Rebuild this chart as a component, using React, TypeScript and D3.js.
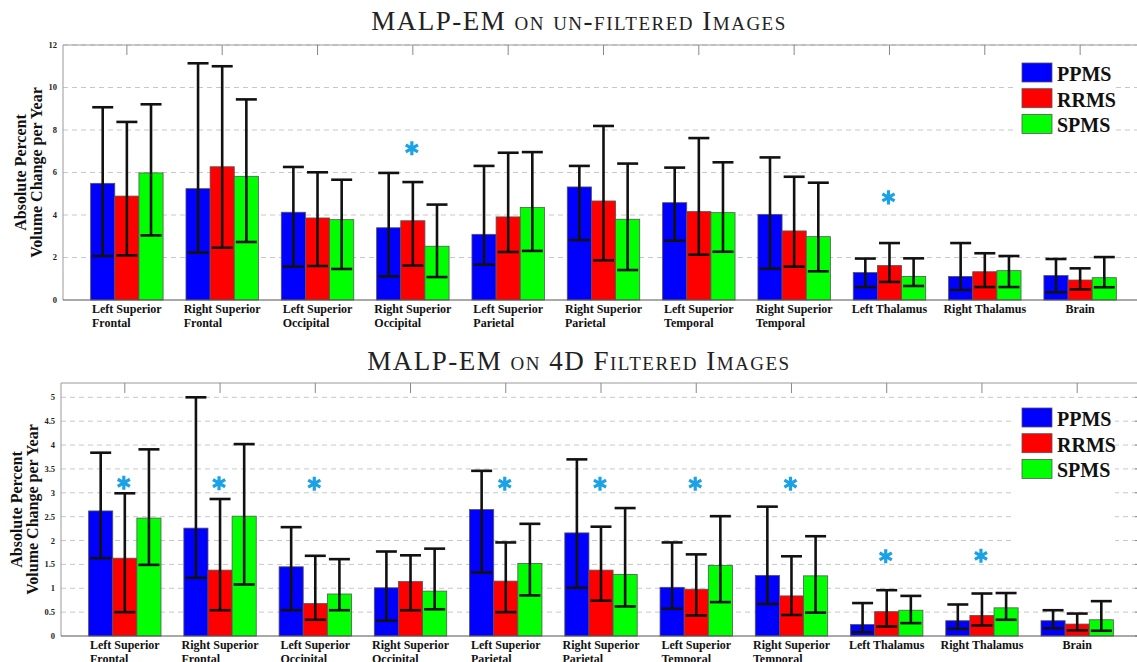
import React from 'react';
import * as d3 from 'd3';

const W = 1137;
const H = 662;

const regions = [
  'Left Superior Frontal',
  'Right Superior Frontal',
  'Left Superior Occipital',
  'Right Superior Occipital',
  'Left Superior Parietal',
  'Right Superior Parietal',
  'Left Superior Temporal',
  'Right Superior Temporal',
  'Left Thalamus',
  'Right Thalamus',
  'Brain',
];
const groups = ['PPMS', 'RRMS', 'SPMS'];
const groupColors = ['#0000ff', '#ff0000', '#00ff00'];

// MALP-EM on un-filtered images
const rawPPMS = [5.49, 5.24, 4.13, 3.4, 3.09, 5.32, 4.58, 4.03, 1.29, 1.11, 1.15];
const rawPPMSHi = [9.07, 11.14, 6.26, 5.98, 6.31, 6.31, 6.23, 6.71, 1.95, 2.68, 1.93];
const rawPPMSLo = [2.07, 2.23, 1.57, 1.11, 1.66, 2.82, 2.79, 1.47, 0.61, 0.47, 0.36];
const rawRRMS = [4.89, 6.27, 3.86, 3.73, 3.91, 4.66, 4.16, 3.25, 1.62, 1.33, 0.94];
const rawRRMSHi = [8.38, 11.0, 6.01, 5.55, 6.93, 8.19, 7.62, 5.8, 2.68, 2.2, 1.49];
const rawRRMSLo = [2.1, 2.46, 1.6, 1.62, 2.26, 1.87, 2.13, 1.57, 0.85, 0.61, 0.5];
const rawSPMS = [5.98, 5.82, 3.78, 2.53, 4.36, 3.8, 4.11, 2.98, 1.11, 1.38, 1.05];
const rawSPMSHi = [9.21, 9.44, 5.66, 4.49, 6.96, 6.42, 6.48, 5.52, 1.96, 2.07, 2.02];
const rawSPMSLo = [3.04, 2.73, 1.46, 1.08, 2.31, 1.41, 2.27, 1.35, 0.66, 0.61, 0.6];
const rawStarIdx = [3, 8];
const rawStarAt = [7.14, 4.83];

// MALP-EM on 4D filtered images
const filtPPMS = [2.62, 2.26, 1.45, 1.01, 2.65, 2.16, 1.02, 1.27, 0.24, 0.32, 0.32];
const filtPPMSHi = [3.84, 5.0, 2.28, 1.77, 3.46, 3.7, 1.96, 2.71, 0.69, 0.66, 0.54];
const filtPPMSLo = [1.63, 1.22, 0.54, 0.32, 1.33, 1.01, 0.57, 0.67, 0.08, 0.15, 0.16];
const filtRRMS = [1.63, 1.38, 0.68, 1.14, 1.15, 1.38, 0.98, 0.84, 0.51, 0.43, 0.25];
const filtRRMSHi = [2.99, 2.87, 1.68, 1.69, 1.96, 2.29, 1.71, 1.67, 0.96, 0.89, 0.47];
const filtRRMSLo = [0.5, 0.54, 0.34, 0.54, 0.5, 0.74, 0.43, 0.44, 0.2, 0.22, 0.12];
const filtSPMS = [2.47, 2.51, 0.88, 0.94, 1.52, 1.29, 1.48, 1.26, 0.54, 0.59, 0.34];
const filtSPMSHi = [3.91, 4.02, 1.61, 1.83, 2.35, 2.68, 2.51, 2.09, 0.84, 0.9, 0.73];
const filtSPMSLo = [1.49, 1.08, 0.54, 0.56, 0.85, 0.62, 0.71, 0.49, 0.27, 0.34, 0.11];
const filtStarIdx = [0, 1, 2, 4, 5, 6, 7, 8, 9];
const filtStarAt = [3.21, 3.2, 3.19, 3.19, 3.19, 3.19, 3.19, 1.67, 1.68];

const SERIF = '"Liberation Serif", "Times New Roman", serif';
const LABEL_FONT = `bold 12px ${SERIF}`;

const ctx = typeof document !== 'undefined' ? document.createElement('canvas').getContext('2d') : null;
function textWidth(s: string, font: string) {
  if (!ctx) return s.length * 6;
  ctx.font = font;
  return ctx.measureText(s).width;
}

function splitLabel(name: string) {
  const m = name.match(/^(Left Superior|Right Superior) (.*)$/);
  return m ? [m[1], m[2]] : [name];
}

const panels = [
  {
    title: 'MALP-EM on un-filtered Images',
    titleY: 30,
    top: 45, bottom: 300, left: 63, right: 1144,
    yMax: 12, tickStep: 2,
    means: [rawPPMS, rawRRMS, rawSPMS],
    his: [rawPPMSHi, rawRRMSHi, rawSPMSHi],
    los: [rawPPMSLo, rawRRMSLo, rawSPMSLo],
    starIdx: rawStarIdx, starAt: rawStarAt,
    legendY: 63, legendBg: [55, 145],
    axisX: [20, 36],
  },
  {
    title: 'MALP-EM on 4D Filtered Images',
    titleY: 370,
    top: 383, bottom: 636, left: 61, right: 1141,
    yMax: 5.3, tickStep: 0.5,
    means: [filtPPMS, filtRRMS, filtSPMS],
    his: [filtPPMSHi, filtRRMSHi, filtSPMSHi],
    los: [filtPPMSLo, filtRRMSLo, filtSPMSLo],
    starIdx: filtStarIdx, starAt: filtStarAt,
    legendY: 408, legendBg: [398, 550],
    axisX: [16, 32],
  },
];

const star = d3.symbol(d3.symbolAsterisk, 139)();

function Panel({ cfg }: { cfg: any }) {
  const x = d3.scaleLinear().domain([0.33, 11.67]).range([cfg.left, cfg.right]);
  const step = x(2) - x(1);
  const inner = d3.scaleBand().domain(groups).range([-step * 0.38, step * 0.38]);
  const bw = inner.bandwidth();
  const y = d3.scaleLinear().domain([0, cfg.yMax]).range([cfg.bottom, cfg.top]);
  const ticks = d3.range(0, cfg.yMax + 1e-9, cfg.tickStep);
  const midY = (cfg.top + cfg.bottom) / 2;

  return (
    <g>
      <text x={579} y={cfg.titleY} textAnchor="middle" fontFamily={SERIF} fontSize={27}
        letterSpacing={1.5} style={{ fontVariant: 'small-caps' }} fill="#222">{cfg.title}</text>

      {/* grid */}
      {ticks.filter((t) => t > 0).map((t) => (
        <line key={t} x1={cfg.left} x2={cfg.right} y1={y(t)} y2={y(t)}
          stroke="#c8c8c8" strokeWidth={1} strokeDasharray="5,4" />
      ))}

      {/* legend background */}
      <rect x={1015} y={cfg.legendBg[0]} width={100} height={cfg.legendBg[1] - cfg.legendBg[0]} fill="#fff" />

      {/* box */}
      <line x1={cfg.left} x2={cfg.right} y1={cfg.top} y2={cfg.top} stroke="#999" />
      <line x1={cfg.left} x2={cfg.left} y1={cfg.top} y2={cfg.bottom} stroke="#999" />
      <line x1={cfg.right} x2={cfg.right} y1={cfg.top} y2={cfg.bottom} stroke="#999" />
      {regions.map((r, i) => (
        <line key={r} x1={x(i + 1)} x2={x(i + 1)} y1={cfg.top} y2={cfg.top + 10} stroke="#888" />
      ))}
      {ticks.map((t) => (
        <line key={t} x1={cfg.right - 6} x2={cfg.right} y1={y(t)} y2={y(t)} stroke="#888" />
      ))}

      {/* y tick labels */}
      {ticks.map((t) => (
        <text key={t} x={cfg.left - 6} y={y(t)} dy="0.35em" textAnchor="end"
          fontFamily={SERIF} fontWeight="bold" fontSize={8.5} fill="#222">{d3.format('~g')(t)}</text>
      ))}

      {/* y axis title */}
      {['Absolute Percent', 'Volume Change per Year'].map((s, k) => (
        <text key={s} transform={`translate(${cfg.axisX[k]},${midY}) rotate(-90)`} dy="0.35em"
          textAnchor="middle" fontFamily={SERIF} fontWeight="bold" fontSize={16} fill="#111">{s}</text>
      ))}

      {/* bars */}
      {groups.map((g, gi) => (
        <g key={g}>
          {cfg.means[gi].map((v: number, i: number) => (
            <rect key={i} x={x(i + 1) + (inner(g) as number)} y={y(v)} width={bw} height={y(0) - y(v)}
              fill={groupColors[gi]} stroke="#555" strokeWidth={0.8} />
          ))}
        </g>
      ))}

      {/* error bars */}
      {groups.map((g, gi) => (
        <g key={g} stroke="#111" strokeWidth={2.6}>
          {cfg.means[gi].map((v: number, i: number) => {
            const cx = x(i + 1) + (inner(g) as number) + bw / 2;
            const hi = y(cfg.his[gi][i]);
            const lo = y(cfg.los[gi][i]);
            return (
              <g key={i}>
                <line x1={cx} x2={cx} y1={hi} y2={lo} />
                <line x1={cx - 10.5} x2={cx + 10.5} y1={hi} y2={hi} />
                <line x1={cx - 10.5} x2={cx + 10.5} y1={lo} y2={lo} />
              </g>
            );
          })}
        </g>
      ))}

      {/* base line */}
      <line x1={cfg.left} x2={cfg.right} y1={y(0)} y2={y(0)} stroke="#555" strokeWidth={1.2} />

      {/* significance */}
      {cfg.starIdx.map((idx: number, k: number) => (
        <path key={idx} d={star as string} transform={`translate(${x(idx + 1) - 1},${y(cfg.starAt[k])})`}
          fill="none" stroke="#1ba1e6" strokeWidth={3.2} />
      ))}

      {/* category labels */}
      {regions.map((r, i) => {
        const lines = splitLabel(r);
        const cx = x(i + 1);
        if (lines.length === 1) {
          return (
            <text key={r} x={cx} y={cfg.bottom + 13} textAnchor="middle" fontFamily={SERIF}
              fontWeight="bold" fontSize={12} fill="#111">{r}</text>
          );
        }
        const x0 = cx - textWidth(lines[0], LABEL_FONT) / 2;
        return (
          <text key={r} fontFamily={SERIF} fontWeight="bold" fontSize={12} fill="#111">
            <tspan x={x0} y={cfg.bottom + 13}>{lines[0]}</tspan>
            <tspan x={x0} y={cfg.bottom + 27}>{lines[1]}</tspan>
          </text>
        );
      })}

      {/* legend */}
      {groups.map((g, gi) => (
        <g key={g} transform={`translate(1022,${cfg.legendY + gi * 25.7})`}>
          <rect width={30} height={19} fill={groupColors[gi]} stroke="#555" strokeWidth={0.8} />
          <text x={35} y={18} fontFamily={SERIF} fontWeight="bold" fontSize={20} fill="#111">{g}</text>
        </g>
      ))}
    </g>
  );
}

export default function App() {
  return (
    <div style={{ position: 'absolute', left: 0, top: 0 }}>
      <svg width={W} height={H} style={{ display: 'block', background: '#fff', overflow: 'hidden' }}>
        {panels.map((p) => (
          <Panel key={p.title} cfg={p} />
        ))}
      </svg>
    </div>
  );
}
